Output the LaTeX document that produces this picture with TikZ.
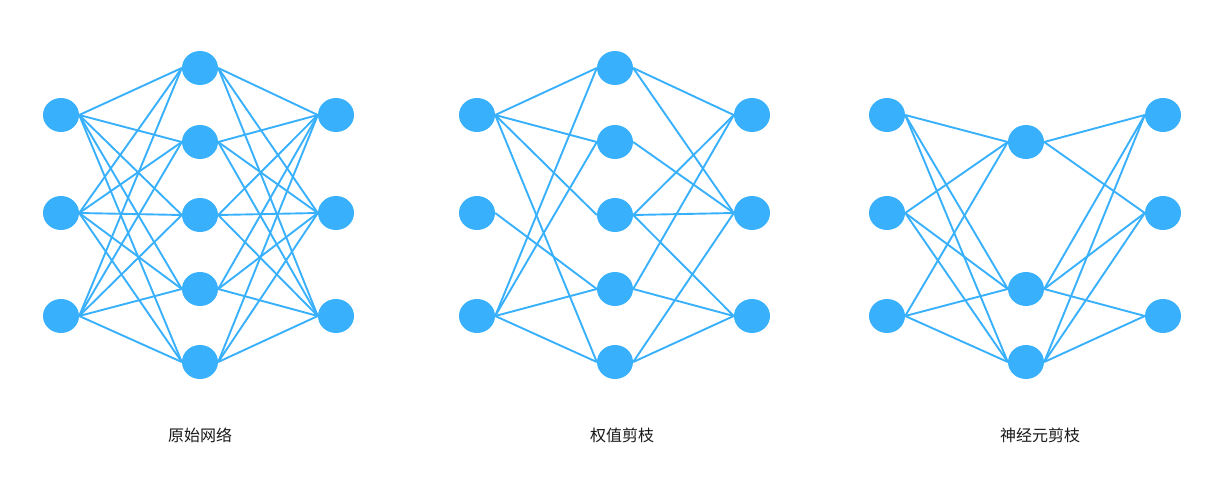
\documentclass[tikz,border=0pt]{standalone}
\usepackage{fontspec}
\newfontfamily\cjk{Noto Sans CJK SC}
\usetikzlibrary{shapes.geometric}
\definecolor{neuron}{HTML}{38B0FC}

\begin{document}
\begin{tikzpicture}[x=1pt,y=-1pt,
  unit/.style={ellipse,fill=neuron,minimum width=36pt,
               minimum height=34pt,inner sep=0pt},
  link/.style={draw=neuron,line width=1.9pt},
  caption/.style={font=\cjk\fontsize{16}{16}\selectfont,text=black!90}
]
  \useasboundingbox (0,0) rectangle (1227,495);

  % original network
  \foreach \k/\y in {1/115,2/213,3/316} {
    \node[unit] (i\k) at (61,\y) {};
    \node[unit] (o\k) at (336,\y) {};
  }
  \foreach \k/\y in {1/68,2/142,3/215,4/289,5/362}
    \node[unit] (h\k) at (200,\y) {};
  \foreach \a in {1,2,3}
    \foreach \b in {1,...,5} {
      \draw[link] (i\a.east) -- (h\b.west);
      \draw[link] (h\b.east) -- (o\a.west);
    }
  \node[caption] (t1) at (200,435) {原始网络};

  % weight pruning
  \foreach \k/\y in {1/115,2/213,3/316} {
    \node[unit] (wi\k) at (477,\y) {};
    \node[unit] (wo\k) at (752,\y) {};
  }
  \foreach \k/\y in {1/68,2/142,3/215,4/289,5/362}
    \node[unit] (wh\k) at (615,\y) {};
  \foreach \a/\b in {1/1,1/2,1/3,1/5,2/4,3/1,3/2,3/4,3/5}
    \draw[link] (wi\a.east) -- (wh\b.west);
  \foreach \b/\c in {1/1,1/2,2/2,3/1,3/2,3/3,4/1,4/3,5/2,5/3}
    \draw[link] (wh\b.east) -- (wo\c.west);
  \node[caption] (t2) at (622,435) {权值剪枝};

  % neuron pruning
  \foreach \k/\y in {1/115,2/213,3/316} {
    \node[unit] (ni\k) at (887,\y) {};
    \node[unit] (no\k) at (1163,\y) {};
  }
  \foreach \k/\y in {2/142,4/289,5/362}
    \node[unit] (nh\k) at (1026,\y) {};
  \foreach \a in {1,2,3}
    \foreach \b in {2,4,5}
      \draw[link] (ni\a.east) -- (nh\b.west);
  \foreach \b/\c in {2/1,2/2,4/1,4/2,4/3,5/1,5/2,5/3}
    \draw[link] (nh\b.east) -- (no\c.west);
  \node[caption] (t3) at (1040,435) {神经元剪枝};
\end{tikzpicture}
\end{document}
